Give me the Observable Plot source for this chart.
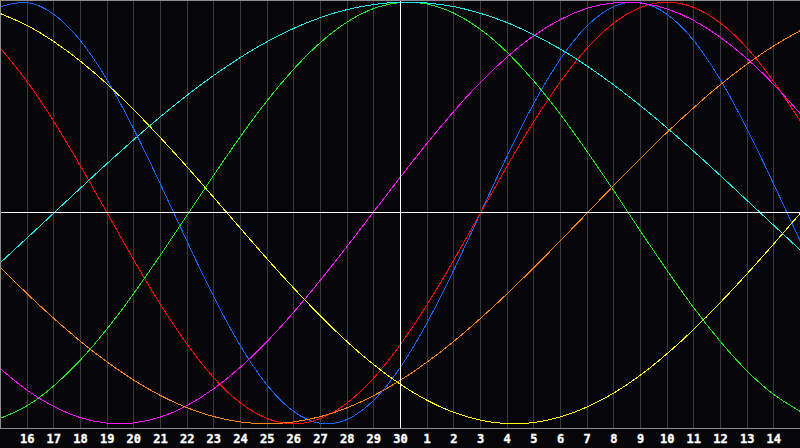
<!DOCTYPE html>
<html>
<head>
<meta charset="utf-8">
<script src="https://cdn.jsdelivr.net/npm/d3@7"></script>
<script src="https://cdn.jsdelivr.net/npm/@observablehq/plot@0.6"></script>
<style>
  html, body { margin: 0; padding: 0; background: #060608; }
  #chart { width: 800px; height: 448px; overflow: hidden; }
  #chart svg text { font-family: 'DejaVu Sans Mono', monospace !important; font-size: 12px !important; font-weight: bold !important; fill: #ffffff; stroke: #ffffff; stroke-width: 0.35px; }
</style>
</head>
<body>
<div id="chart"></div>
<script>
// Day labels from left edge (15) to right edge (15 of next month)
const dayLabels = [15,16,17,18,19,20,21,22,23,24,25,26,27,28,29,30,1,2,3,4,5,6,7,8,9,10,11,12,13,14,15];

// Cycle values (-1..1) read at each day
const blue23 = [0.979,0.998,0.942,0.817,0.631,0.398,0.136,-0.136,-0.398,-0.631,-0.817,-0.942,-0.998,-0.979,-0.888,-0.731,-0.520,-0.270,0,0.270,0.520,0.731,0.888,0.979,0.998,0.942,0.817,0.631,0.398,0.136,-0.136];
const red28 = [0.782,0.623,0.434,0.223,0,-0.223,-0.434,-0.623,-0.782,-0.901,-0.975,-1,-0.975,-0.901,-0.782,-0.623,-0.434,-0.223,0,0.223,0.434,0.623,0.782,0.901,0.975,1,0.975,0.901,0.782,0.623,0.434];
const green33 = [-0.974,-0.914,-0.820,-0.697,-0.549,-0.381,-0.199,-0.010,0.180,0.363,0.533,0.683,0.809,0.906,0.970,0.998,0.991,0.948,0.871,0.762,0.626,0.467,0.291,0.105,-0.086,-0.273,-0.450,-0.610,-0.750,-0.861,-0.942];
const magenta38 = [-0.740,-0.841,-0.918,-0.971,-0.997,-0.996,-0.968,-0.913,-0.833,-0.731,-0.609,-0.470,-0.318,-0.158,0.007,0.171,0.331,0.482,0.620,0.740,0.841,0.918,0.971,0.997,0.996,0.968,0.913,0.833,0.731,0.609,0.470];
const yellow43 = [0.946,0.889,0.813,0.720,0.611,0.489,0.357,0.218,0.073,-0.073,-0.218,-0.357,-0.489,-0.611,-0.720,-0.813,-0.889,-0.946,-0.983,-0.999,-0.994,-0.967,-0.920,-0.854,-0.769,-0.667,-0.552,-0.424,-0.288,-0.146,0.000];
const orange48 = [-0.259,-0.383,-0.5,-0.609,-0.707,-0.793,-0.866,-0.924,-0.966,-0.991,-1,-0.991,-0.966,-0.924,-0.866,-0.793,-0.707,-0.609,-0.5,-0.383,-0.259,-0.131,0,0.131,0.259,0.383,0.5,0.609,0.707,0.793,0.866];
const cyan53 = [-0.235,-0.118,0,0.118,0.235,0.348,0.457,0.559,0.653,0.738,0.813,0.876,0.927,0.965,0.989,1.000,0.996,0.979,0.947,0.903,0.845,0.777,0.697,0.607,0.509,0.403,0.292,0.177,0.059,-0.059,-0.177];

const seriesNames = ["23", "28", "33", "38", "43", "48", "53"];
const seriesValues = [blue23, red28, green33, magenta38, yellow43, orange48, cyan53];
const seriesColors = ["#1466ff", "#ff0a0a", "#22e622", "#ff14ff", "#ffff14", "#ff8414", "#1ee8e8"];

const rows = [];
seriesNames.forEach((name, s) => {
  seriesValues[s].forEach((v, i) => rows.push({ i, v, s: name }));
});

const tickIdx = d3.range(1, dayLabels.length - 1);
const centerIdx = dayLabels.indexOf(30);
const yDomain = [-1.0223, 1.008];

const chart = Plot.plot({
  width: 800,
  height: 448,
  marginTop: 0,
  marginBottom: 20,
  marginLeft: 0,
  marginRight: 0,
  style: {
    background: "#060608",
    color: "white",
    overflow: "hidden"
  },
  x: {
    domain: [0, dayLabels.length - 1],
    ticks: tickIdx,
    tickFormat: i => dayLabels[i],
    tickSize: 0,
    tickPadding: 6,
    label: null
  },
  y: { domain: yDomain, axis: null },
  color: { domain: seriesNames, range: seriesColors },
  marks: [
    Plot.ruleX(tickIdx.filter(i => i !== centerIdx), { stroke: "#3a3a3a", strokeWidth: 1, shapeRendering: "crispEdges" }),
    Plot.line(rows, {
      x: "i", y: "v", z: "s", stroke: "s",
      curve: "natural", strokeWidth: 1, shapeRendering: "crispEdges"
    }),
    Plot.ruleY([0], { stroke: "white", strokeWidth: 1, shapeRendering: "crispEdges" }),
    Plot.ruleX([centerIdx], { stroke: "white", strokeWidth: 1, shapeRendering: "crispEdges" }),
    Plot.ruleY(yDomain, { stroke: "#8c8c8c", strokeWidth: 1, shapeRendering: "crispEdges" }),
    Plot.ruleX([0], { stroke: "#8c8c8c", strokeWidth: 1, shapeRendering: "crispEdges" })
  ]
});

document.getElementById("chart").appendChild(chart);
</script>
</body>
</html>
